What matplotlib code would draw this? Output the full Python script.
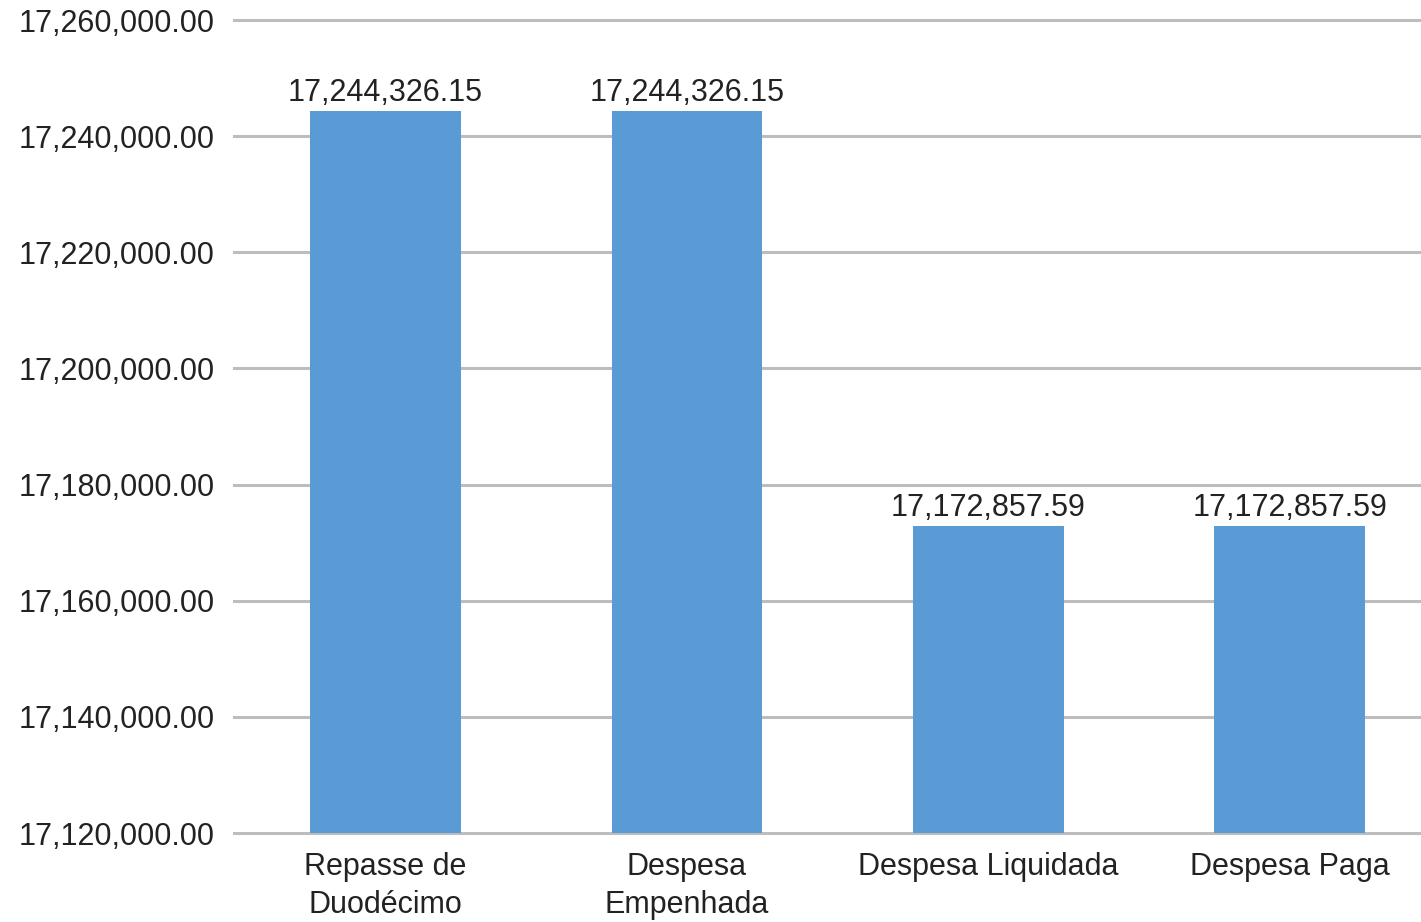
import matplotlib
matplotlib.use('Agg')
import matplotlib.pyplot as plt
from matplotlib.ticker import FuncFormatter

# data
categories = ['Repasse de\nDuodécimo', 'Despesa\nEmpenhada', 'Despesa Liquidada', 'Despesa Paga']
values = [17244326.15, 17244326.15, 17172857.59, 17172857.59]
yticks = list(range(17120000, 17260001, 20000))

plt.rcParams['font.family'] = ['Liberation Sans', 'DejaVu Sans']

fig = plt.figure(figsize=(14.21, 9.22), dpi=100)
ax = fig.add_axes([234 / 1421, 89 / 922, 1 - 234 / 1421, (833 - 20) / 922])

x = range(len(categories))
bars = ax.bar(x, values, width=0.5, color='#5B9BD5', zorder=3)

for b, v in zip(bars, values):
    ax.text(b.get_x() + b.get_width() / 2, v + 500, f'{v:,.2f}',
            ha='center', va='bottom', fontsize=22, color='#222222', zorder=4)

ax.set_ylim(17120000, 17260000)
ax.set_xlim(-0.503, 3.436)
ax.set_yticks(yticks)
ax.yaxis.set_major_formatter(FuncFormatter(lambda v, p: f'{v:,.2f}'))
ax.set_xticks(list(x))
ax.set_xticklabels(categories, fontsize=22, color='#222222', linespacing=1.35)
ax.tick_params(axis='y', labelsize=22, labelcolor='#222222', length=0, pad=14)
ax.tick_params(axis='x', length=0, pad=14)

ax.grid(axis='y', color='#BDBDBD', linewidth=2.2, zorder=0)
for gl in ax.get_ygridlines():
    gl.set_clip_on(False)
for s in ax.spines.values():
    s.set_visible(False)

fig.savefig('out.png', dpi=100)
